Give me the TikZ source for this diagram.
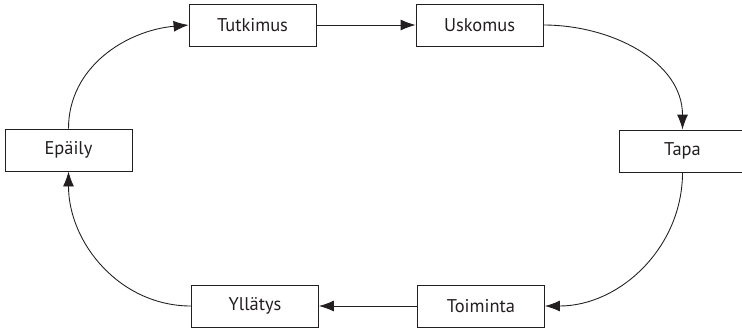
\documentclass[tikz,border=0pt]{standalone}
\usepackage{fontspec}
\setmainfont{PT Sans}
\usetikzlibrary{arrows.meta}
\definecolor{ink}{HTML}{231F20}

\begin{document}
\begin{tikzpicture}[x=0.02cm, y=-0.02cm, line width=0.5pt, draw=ink,
    every node/.style={draw=ink, text=ink, minimum width=2.54cm, minimum height=0.84cm, inner sep=0pt, font=\fontsize{10.5}{12}\selectfont},
    arr/.style={-{Latex[length=3mm, width=2.2mm]}}]
        \useasboundingbox (0,0) rectangle (742,329);
        \node (tut) at (252.5,25) {Tutkimus};
        \node (usk) at (479.5,25) {Uskomus};
        \node (tapa) at (682.5,151) {Tapa};
        \node (toi) at (481,306) {Toiminta};
        \node (yll) at (255,306) {Yllätys};
        \node (epa) at (68.5,150) {Epäily};
        \draw[arr] (epa.north) to[out=90, in=185] (tut.west);
        \draw[arr] (tut.east) -- (usk.west);
        \draw[arr] (usk.east) to[out=0, in=90] (tapa.north);
        \draw[arr] (tapa.south) to[out=270, in=0] (toi.east);
        \draw[arr] (toi.west) -- (yll.east);
        \draw[arr] (yll.west) to[out=180, in=270] (epa.south);
    \end{tikzpicture}
\end{document}
